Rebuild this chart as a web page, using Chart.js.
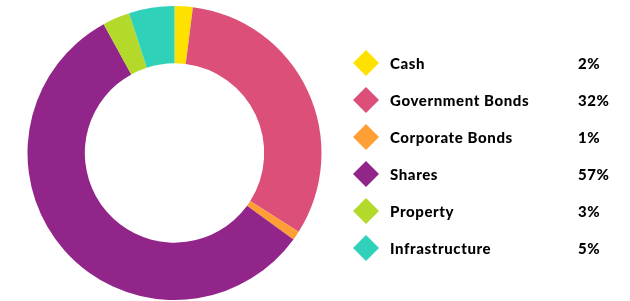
<!DOCTYPE html>
<html>
<head>
<meta charset="utf-8">
<script src="https://cdn.jsdelivr.net/npm/chart.js@4"></script>
<style>
html,body{margin:0;padding:0;background:#fff;}
#wrap{width:630px;height:301px;position:relative;}
</style>
</head>
<body>
<div id="wrap"><canvas id="c" width="630" height="301"></canvas></div>
<script>
const categories = ["Cash", "Government Bonds", "Corporate Bonds", "Shares", "Property", "Infrastructure"];
const values = [2, 32, 1, 57, 3, 5];
const valueLabels = ["2%", "32%", "1%", "57%", "3%", "5%"];
const colors = ["#FFE100", "#DC4F78", "#FF9E35", "#922589", "#B3DA2A", "#30D1B9"];

const legendPlugin = {
  id: 'sideLegend',
  afterDraw(chart) {
    const ctx = chart.ctx;
    const labels = chart.data.labels;
    const ds = chart.data.datasets[0];
    const x0 = 366, y0 = 63, step = 37, h = 13;
    ctx.save();
    ctx.font = '900 15px Lato';
    if ('letterSpacing' in ctx) ctx.letterSpacing = '0.6px';
    ctx.textBaseline = 'middle';
    labels.forEach((lab, i) => {
      const y = y0 + i * step;
      ctx.fillStyle = ds.backgroundColor[i];
      ctx.beginPath();
      ctx.moveTo(x0, y - h);
      ctx.lineTo(x0 + h, y);
      ctx.lineTo(x0, y + h);
      ctx.lineTo(x0 - h, y);
      ctx.closePath();
      ctx.fill();
      ctx.fillStyle = '#000';
      ctx.textAlign = 'left';
      ctx.fillText(lab, 390, y + 1);
      ctx.fillText(valueLabels[i], 578, y + 1);
    });
    ctx.restore();
  }
};

new Chart(document.getElementById('c'), {
  type: 'doughnut',
  data: {
    labels: categories,
    datasets: [{
      data: values,
      backgroundColor: colors,
      borderWidth: 0,
      hoverOffset: 0
    }]
  },
  options: {
    responsive: false,
    animation: false,
    cutout: '61%',
    layout: { padding: { left: 27, right: 308, top: 6, bottom: 1 } },
    plugins: { legend: { display: false }, tooltip: { enabled: false } }
  },
  plugins: [legendPlugin]
});
</script>
</body>
</html>
